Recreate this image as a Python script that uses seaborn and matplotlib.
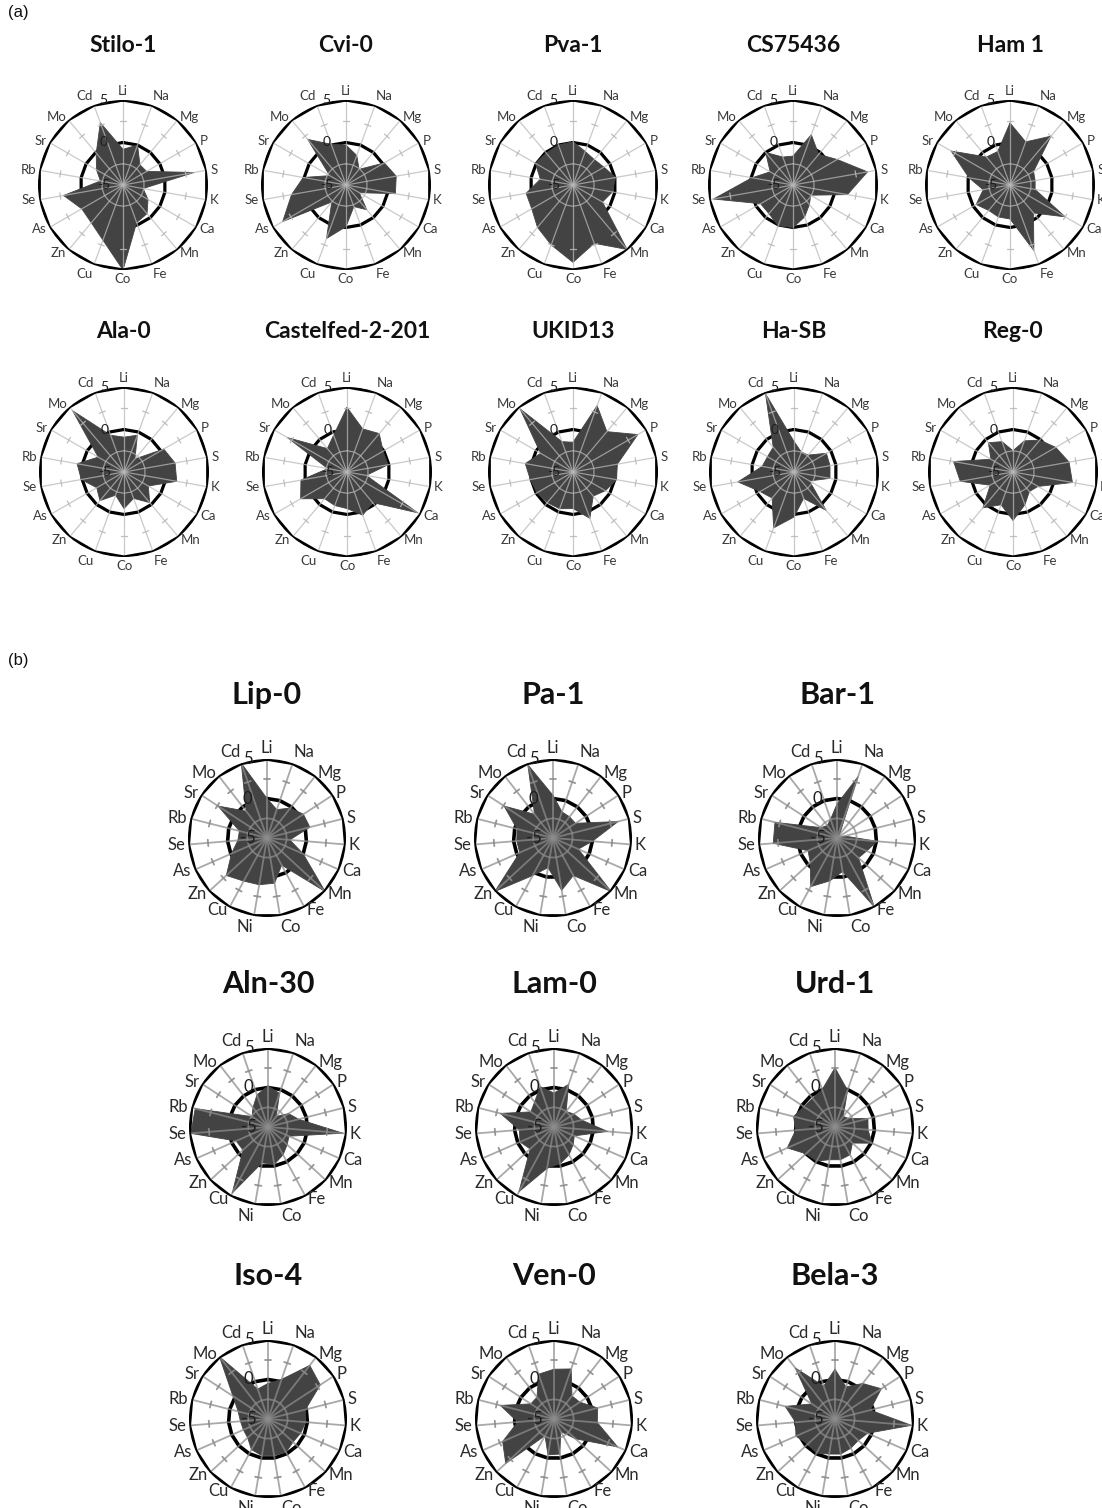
import matplotlib

matplotlib.use("Agg")

import matplotlib.pyplot as plt
import numpy as np
import pandas as pd
import seaborn as sns

# element order around the radar (clockwise from top)
ELEMENTS_A = ["Li", "Na", "Mg", "P", "S", "K", "Ca", "Mn", "Fe", "Co",
              "Cu", "Zn", "As", "Se", "Rb", "Sr", "Mo", "Cd"]
ELEMENTS_B = ["Li", "Na", "Mg", "P", "S", "K", "Ca", "Mn", "Fe", "Co",
              "Ni", "Cu", "Zn", "As", "Se", "Rb", "Sr", "Mo", "Cd"]

# panel (a) accessions
TITLES_A = ["Stilo-1", "Cvi-0", "Pva-1", "CS75436", "Ham 1",
            "Ala-0", "Castelfed-2-201", "UKID13", "Ha-SB", "Reg-0"]
stilo_1 = [-0.8, 0.0, -1.9, -1.8, 3.5, -2.6, -1.6, -0.6, -0.3, 5.0, 1.9, 0.8, 0.6, 2.1, -2.3, -1.4, -0.1, 2.8]
cvi_0 = [-0.3, -1.3, -2.6, 0.2, 1.0, 0.9, -3.2, -1.2, -2.3, -0.1, 1.7, -2.4, 3.6, 1.5, 0.1, -2.8, 2.0, 0.1]
pva_1 = [0.1, -0.8, -1.1, -0.8, 0.1, -0.3, -1.0, 4.9, 2.3, 4.1, 2.5, 1.5, 0.6, 0.6, -1.1, 0.1, -0.1, 0.0]
cs75436 = [-1.6, 1.3, -0.3, 1.0, 3.9, 1.5, -2.6, -2.0, -1.0, 0.0, 0.1, -0.6, -0.6, 4.5, -0.1, -1.9, 0.0, -1.5]
ham_1 = [2.3, 0.4, 2.5, -1.8, -2.0, -2.0, 2.5, -0.7, 3.2, -1.0, -1.0, -1.1, -0.4, -1.8, -0.1, 3.0, -0.7, -0.8]
ala_0 = [-0.9, -0.4, -3.0, 0.4, 1.1, 1.3, -1.7, -0.3, -1.7, -0.7, -2.1, -0.6, -1.3, 0.1, 0.6, -1.5, 4.4, -0.4]
castelfed_2_201 = [2.6, 0.4, 0.9, -0.1, -0.1, -2.7, 4.6, -0.3, 0.4, -0.7, -0.8, -0.9, 1.3, 0.5, -2.7, 3.1, -1.4, -0.4]
ukid13 = [-1.5, 3.3, 1.2, 3.8, 0.3, 0.2, -0.6, -1.3, 0.8, -0.7, -0.4, -0.3, -0.1, 0.1, 0.7, -0.6, 4.7, -1.2]
ha_sb = [-1.4, -2.5, -2.4, -0.6, -0.7, -0.7, -2.9, 0.9, -1.7, 0.3, 2.0, -1.0, -0.4, 1.7, -1.2, -1.4, -1.2, 4.8]
reg_0 = [-2.5, -1.1, -0.1, 0.8, 1.7, 2.1, -1.6, -2.0, -0.9, 0.7, -0.9, 0.5, -1.9, 1.3, 2.1, -2.0, -0.5, -1.2]
VALUES_A = [stilo_1, cvi_0, pva_1, cs75436, ham_1,
            ala_0, castelfed_2_201, ukid13, ha_sb, reg_0]

# panel (b) accessions
TITLES_B = ["Lip-0", "Pa-1", "Bar-1", "Aln-30", "Lam-0", "Urd-1",
            "Iso-4", "Ven-0", "Bela-3"]
lip_0 = [0.0, -1.2, -0.2, 0.5, 0.6, -2.1, 0.0, 5.0, -1.1, 0.8, 1.0, 1.2, 2.0, -0.1, -1.3, -1.4, 2.4, -0.7, 5.0]
pa_1 = [0.4, -1.5, -1.6, -1.6, 3.5, 0.0, -1.5, 5.0, 0.4, 1.7, -1.2, 0.4, 5.0, -0.4, -0.4, -0.3, 2.4, -1.2, 4.8]
bar_1 = [-0.7, 3.2, -4.5, -5.0, -4.0, 0.1, -0.9, -1.3, 4.9, -0.7, 0.5, 2.0, -0.4, -1.0, 3.1, 3.1, -2.6, -3.0, -2.5]
aln_30 = [0.2, -0.5, -3.3, -1.9, -1.0, 4.5, -2.1, -1.7, -1.0, -0.2, -0.4, 4.5, -0.7, -0.6, 4.8, 4.5, -2.6, -1.9, -0.7]
lam_0 = [-0.7, 0.7, -2.5, -2.0, -1.4, 1.8, -2.2, -1.7, -1.0, -0.3, 0.3, 4.3, -0.9, -0.3, -0.6, 2.0, -1.5, -1.0, 0.4]
urd_1 = [2.5, -0.1, -3.3, -3.0, -0.7, -0.8, 0.1, -2.0, -1.0, -0.8, -0.8, -0.1, 0.0, 1.6, 0.0, 0.4, -0.3, -0.4, 0.0]
iso_4 = [-0.5, 0.3, 3.6, 2.9, -0.1, -0.2, -0.5, -0.7, -0.2, -0.3, -0.3, -0.6, -1.5, -1.6, -1.5, -1.1, 0.3, 5.0, -1.0]
ven_0 = [1.3, 1.7, -1.3, -1.1, 0.7, 0.5, 3.8, -1.3, -3.2, -0.5, -0.4, -2.6, 3.3, 2.1, -0.4, 2.0, -1.5, -1.5, 1.0]
bela_3 = [1.3, -0.7, 0.7, 2.0, -0.4, 4.7, -0.5, -1.0, -0.8, -0.5, -0.5, -0.1, -0.3, 0.4, 0.0, 1.5, -1.5, 3.2, -0.6]
VALUES_B = [lip_0, pa_1, bar_1, aln_30, lam_0, urd_1, iso_4, ven_0, bela_3]

RADIAL_LEVELS = [-5, 0, 5]

W, H = 1102, 1508
FILL = "#434343"

STYLE_A = dict(radius=85, spoke="#b8b8b8", spoke_lw=0.9, ring_lw=2.3,
               label_size=9.5, label_color="#3a3a3a", value_size=10,
               title_size=16.5, title_gap=140)
STYLE_B = dict(radius=79, spoke="#8c8c8c", spoke_lw=1.3, ring_lw=2.6,
               label_size=12, label_color="#2a2a2a", value_size=12,
               title_size=22, title_gap=143)


def _radar(fig, cx, cy, labels, values, title, st):
    r_px = st["radius"]
    ax = fig.add_axes([(cx - r_px) / W, 1 - (cy + r_px) / H,
                       2 * r_px / W, 2 * r_px / H], projection="polar")
    ax.set_theta_zero_location("N")
    ax.set_theta_direction(-1)
    ax.set_facecolor("none")
    ax.grid(False)
    ax.spines["polar"].set_visible(False)

    n = len(labels)
    theta = np.linspace(0, 2 * np.pi, n, endpoint=False)
    closed = np.append(theta, theta[0] + 2 * np.pi)
    vals = np.clip(np.array(values, dtype=float), -5, 5)

    # polygon gridlines (0 under the fill, outer on top)
    ax.plot(closed, np.zeros(n + 1), color="black", lw=st["ring_lw"], zorder=1)
    ax.plot(closed, np.full(n + 1, 5.0), color="black", lw=st["ring_lw"], zorder=5)

    df = pd.DataFrame({"theta": closed, "value": np.append(vals, vals[0])})
    ax.fill(df["theta"], df["value"], color=FILL, lw=0, zorder=2)
    sns.lineplot(data=df, x="theta", y="value", ax=ax, sort=False,
                 estimator=None, color=FILL, lw=0.6, zorder=2.5)

    # spokes, minor ring and tick marks drawn over the fill
    for t in theta:
        ax.plot([t, t], [-5, 5], color=st["spoke"], lw=st["spoke_lw"],
                alpha=0.75, zorder=3)
        d = 3.2 / (0.75 * r_px)
        ax.plot([t - d, t + d], [2.5, 2.5], color=st["spoke"],
                lw=st["spoke_lw"], alpha=0.9, zorder=3)
    ax.plot(closed, np.full(n + 1, -2.5), color=st["spoke"],
            lw=st["spoke_lw"], alpha=0.75, zorder=3)

    ax.set_ylim(-5, 5)
    ax.set_xticks([])
    ax.set_yticks([])
    ax.set_xlabel("")
    ax.set_ylabel("")

    for t, lab in zip(theta, labels):
        s, c = np.sin(t), np.cos(t)
        ha = "left" if s > 0.05 else ("right" if s < -0.05 else "center")
        va = "bottom" if c > 0.9 else ("top" if c < -0.9 else "center")
        ax.text(t, 5.4, lab, ha=ha, va=va, fontsize=st["label_size"],
                color=st["label_color"], zorder=6)

    for lv in RADIAL_LEVELS:
        ax.annotate(f"{lv}", xy=(0, lv), xytext=(-14, 0),
                    textcoords="offset points", ha="center", va="center",
                    fontsize=st["value_size"], color="#1e1e1e", zorder=6)

    fig.text(cx / W, 1 - (cy - st["title_gap"]) / H, title, ha="center",
             va="center", fontsize=st["title_size"], fontweight="bold",
             family=["Lato", "DejaVu Sans"], color="#111111")


sns.set_theme(style="white")
plt.rcParams["font.family"] = ["Lato", "DejaVu Sans"]

fig = plt.figure(figsize=(W / 100, H / 100), dpi=100)

centers_a = [(123, 185), (346, 185), (573, 185), (793, 185), (1010, 185),
             (124, 472), (347, 472), (573, 472), (794, 472), (1013, 472)]
for (cx, cy), title, vals in zip(centers_a, TITLES_A, VALUES_A):
    _radar(fig, cx, cy, ELEMENTS_A, vals, title, STYLE_A)

centers_b = [(267, 838), (553, 838), (837, 838),
             (268, 1127), (554, 1127), (835, 1127),
             (268, 1419), (554, 1419), (835, 1419)]
for (cx, cy), title, vals in zip(centers_b, TITLES_B, VALUES_B):
    _radar(fig, cx, cy, ELEMENTS_B, vals, title, STYLE_B)

fig.text(8 / W, 1 - 12 / H, "(a)", ha="left", va="center", fontsize=12,
         family=["Liberation Sans", "DejaVu Sans"], color="#111111")
fig.text(8 / W, 1 - 660 / H, "(b)", ha="left", va="center", fontsize=12,
         family=["Liberation Sans", "DejaVu Sans"], color="#111111")

fig.savefig("out.png", dpi=100, facecolor="white")
